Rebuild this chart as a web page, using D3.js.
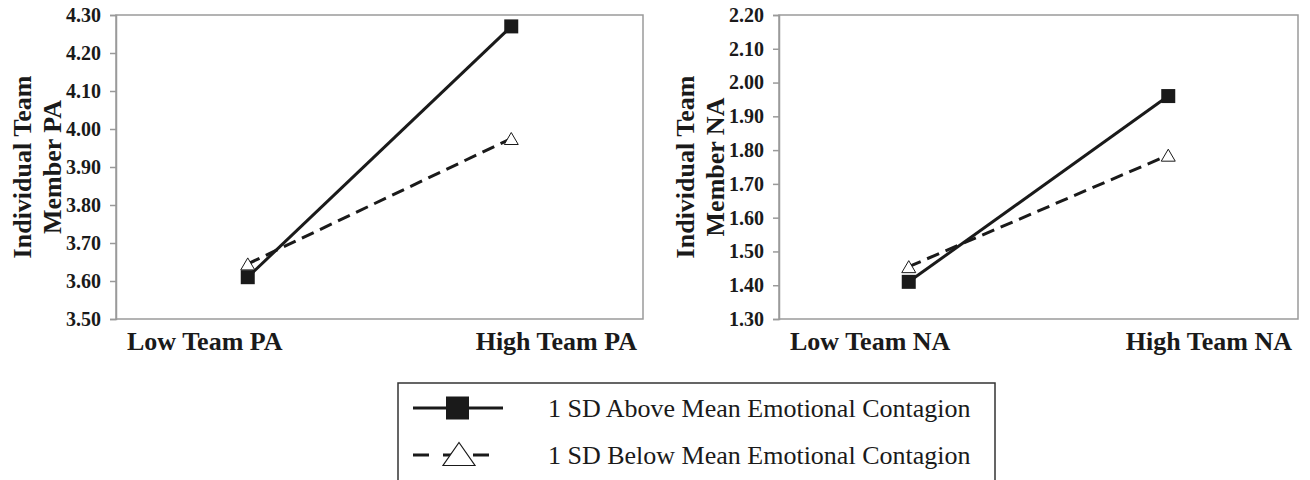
<!DOCTYPE html>
<html>
<head>
<meta charset="utf-8">
<script src="https://cdn.jsdelivr.net/npm/d3@7"></script>
<style>
  body { margin: 0; background: #fff; }
  svg { display: block; }
  svg text { font-family: "Liberation Serif", "Times New Roman", Tinos, "DejaVu Serif", serif; }
</style>
</head>
<body>
<svg width="1310" height="480"></svg>
<script>
// data
var paCategories = ["Low Team PA", "High Team PA"];
var naCategories = ["Low Team NA", "High Team NA"];
var paAbove = [3.61, 4.27];
var paBelow = [3.645, 3.975];
var naAbove = [1.41, 1.96];
var naBelow = [1.455, 1.785];
var paTicks = [3.50, 3.60, 3.70, 3.80, 3.90, 4.00, 4.10, 4.20, 4.30];
var naTicks = [1.30, 1.40, 1.50, 1.60, 1.70, 1.80, 1.90, 2.00, 2.10, 2.20];
var seriesNames = ["1 SD Above Mean Emotional Contagion", "1 SD Below Mean Emotional Contagion"];
var paTitle = ["Individual Team", "Member PA"];
var naTitle = ["Individual Team", "Member NA"];

var svg = d3.select("svg");
var ink = "#1a1a1a", frame = "#9a9a9a";

function trianglePath(w, h) {
	return "M0," + (-h / 2) + "L" + (w / 2) + "," + (h / 2) + "L" + (-w / 2) + "," + (h / 2) + "Z";
}

function panel(opts) {
	var g = svg.append("g");
	var x = d3.scalePoint().domain(opts.cats).range([opts.x0, opts.x1]).padding(0.5);
	var y = d3.scaleLinear().domain(d3.extent(opts.ticks)).range([opts.y1, opts.y0]);

	// plot frame
	g.append("rect")
		.attr("x", opts.x0).attr("y", opts.y0)
		.attr("width", opts.x1 - opts.x0).attr("height", opts.y1 - opts.y0)
		.attr("fill", "none").attr("stroke", frame).attr("stroke-width", 1.5);

	var yAxis = d3.axisLeft(y)
		.tickValues(opts.ticks)
		.tickFormat(d3.format(".2f"))
		.tickSize(6)
		.tickPadding(9);
	var ax = g.append("g").attr("transform", "translate(" + opts.x0 + ",0)").call(yAxis);
	ax.attr("font-family", null).attr("font-size", null);
	ax.select(".domain").attr("stroke", frame).attr("stroke-width", 1.5);
	ax.selectAll(".tick line").attr("stroke", frame).attr("stroke-width", 1.5);
	ax.selectAll(".tick text")
		.attr("fill", ink)
		.style("font-size", "20px")
		.style("font-weight", "bold");

	// y title, two rotated lines
	var cy = (opts.y0 + opts.y1) / 2;
	opts.title.forEach(function(t, i) {
		g.append("text")
			.attr("transform", "translate(" + (opts.x0 - 94 + i * 30) + "," + cy + ") rotate(-90)")
			.attr("text-anchor", "middle")
			.attr("dominant-baseline", "central")
			.attr("fill", ink)
			.style("font-size", "26px")
			.style("font-weight", "bold")
			.text(t);
	});

	// category labels
	g.append("text")
		.attr("x", opts.x0 + 11).attr("y", 350)
		.attr("text-anchor", "start")
		.attr("fill", ink).style("font-size", "26px").style("font-weight", "bold")
		.text(opts.cats[0]);
	g.append("text")
		.attr("x", opts.x1 - 6).attr("y", 350)
		.attr("text-anchor", "end")
		.attr("fill", ink).style("font-size", "26px").style("font-weight", "bold")
		.text(opts.cats[1]);

	var line = d3.line()
		.x(function(d, i) { return x(opts.cats[i]); })
		.y(function(d) { return y(d); });

	g.append("path").datum(opts.below)
		.attr("d", line).attr("fill", "none")
		.attr("stroke", ink).attr("stroke-width", 3)
		.attr("stroke-dasharray", "13,7");
	g.append("path").datum(opts.above)
		.attr("d", line).attr("fill", "none")
		.attr("stroke", ink).attr("stroke-width", 3);

	g.selectAll(".tri").data(opts.below).enter().append("path")
		.attr("class", "tri")
		.attr("d", trianglePath(14, 12))
		.attr("transform", function(d, i) { return "translate(" + x(opts.cats[i]) + "," + y(d) + ")"; })
		.attr("fill", "#fff").attr("stroke", ink).attr("stroke-width", 1);
	g.selectAll(".sq").data(opts.above).enter().append("rect")
		.attr("class", "sq")
		.attr("x", function(d, i) { return x(opts.cats[i]) - 7; })
		.attr("y", function(d) { return y(d) - 7; })
		.attr("width", 14).attr("height", 14)
		.attr("fill", ink);
}

panel({ cats: paCategories, above: paAbove, below: paBelow, ticks: paTicks, title: paTitle,
	x0: 116, x1: 643, y0: 15, y1: 319 });
panel({ cats: naCategories, above: naAbove, below: naBelow, ticks: naTicks, title: naTitle,
	x0: 779, x1: 1298, y0: 15, y1: 319 });

// legend
var lg = svg.append("g");
lg.append("rect")
	.attr("x", 398).attr("y", 383).attr("width", 597).attr("height", 120)
	.attr("fill", "none").attr("stroke", "#333").attr("stroke-width", 1.5);

var rows = [408, 455];
lg.append("line").attr("x1", 413).attr("x2", 503).attr("y1", rows[0]).attr("y2", rows[0])
	.attr("stroke", ink).attr("stroke-width", 3);
lg.append("rect").attr("x", 446).attr("y", rows[0] - 11.5).attr("width", 23).attr("height", 23)
	.attr("fill", ink);
lg.append("line").attr("x1", 413).attr("x2", 503).attr("y1", rows[1]).attr("y2", rows[1])
	.attr("stroke", ink).attr("stroke-width", 3).attr("stroke-dasharray", "16,14");
lg.append("path").attr("d", trianglePath(32, 23))
	.attr("transform", "translate(459," + (rows[1] - 1) + ")")
	.attr("fill", "#fff").attr("stroke", ink).attr("stroke-width", 1.2);

seriesNames.forEach(function(name, i) {
	lg.append("text")
		.attr("x", 548).attr("y", rows[i])
		.attr("dominant-baseline", "central")
		.attr("fill", ink)
		.style("font-size", "26px")
		.text(name);
});
</script>
</body>
</html>
